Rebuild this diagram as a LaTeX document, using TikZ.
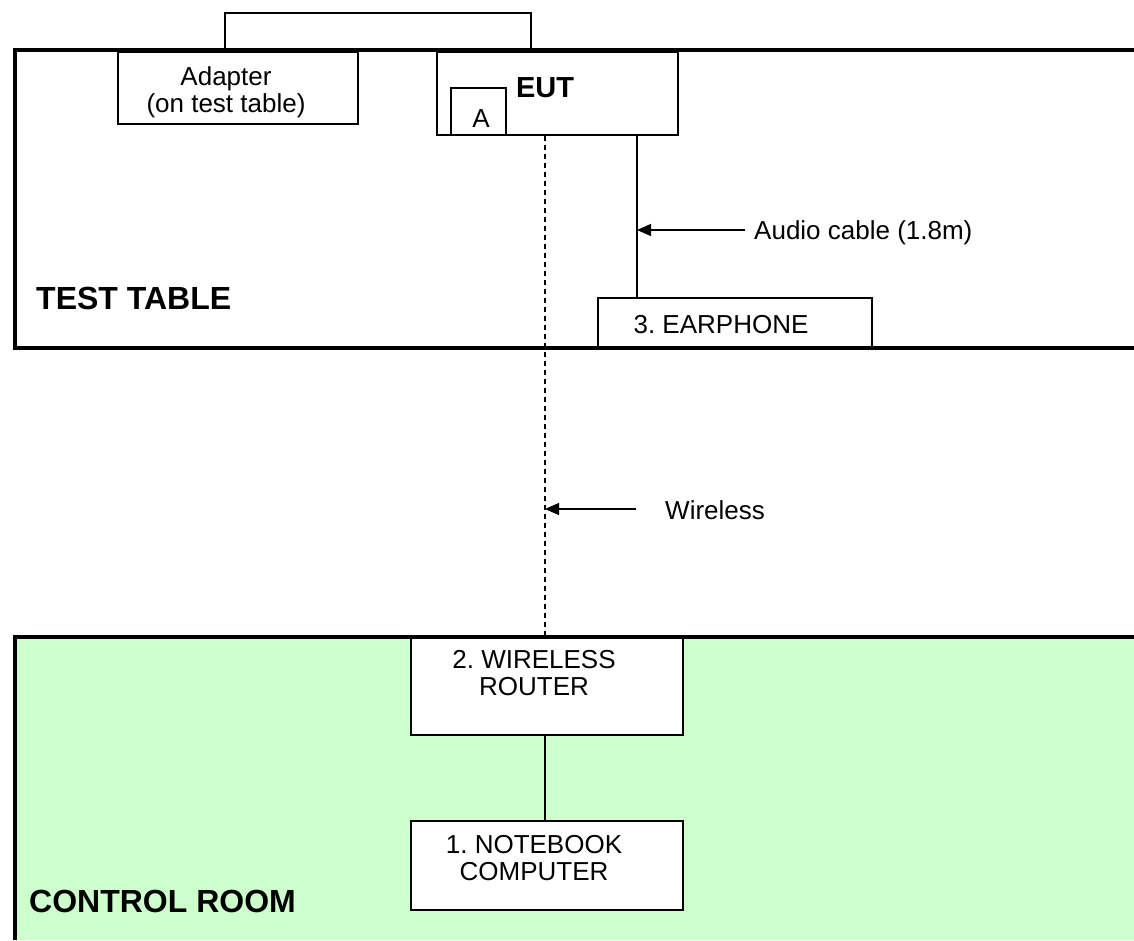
\documentclass[tikz,border=0pt]{standalone}
\usepackage{fontspec}
\setmainfont{Liberation Sans}
\usetikzlibrary{arrows.meta}
\definecolor{roomgreen}{HTML}{CCFFCC}
\frenchspacing
\begin{document}
\begin{tikzpicture}[x=1pt,y=-1pt,
  box/.style={draw, line width=1.2pt, fill=white, inner sep=0pt},
  txt/.style={font=\fontsize{26}{27}\selectfont, inner sep=0pt, anchor=base},
  txtw/.style={font=\fontsize{26}{27}\selectfont, inner sep=0pt, anchor=base west},
  lbl/.style={font=\bfseries\fontsize{32}{36}\selectfont, inner sep=0pt, anchor=base west},
  wall/.style={line width=4pt},
  wire/.style={line width=1.3pt},
  radio/.style={line width=1.2pt, dash pattern=on 5pt off 4pt},
  pointer/.style={line width=1.3pt, -{Triangle[length=14pt,width=12pt]}}]
\useasboundingbox (0,0) rectangle (1134,940);
% control room background
\fill[roomgreen] (15,637) rectangle (1134,940);
% boxes
\node[box, minimum width=240pt, minimum height=72pt] (adapter) at (238,88) {};
\node[box, minimum width=241pt, minimum height=83pt] (eut) at (557.5,93.5) {};
\node[box, minimum width=55pt, minimum height=47pt] (abox) at (478.5,111.5) {};
\node[box, minimum width=274pt, minimum height=50pt] (earphone) at (735,323) {};
\node[box, minimum width=272pt, minimum height=98pt] (router) at (547,686) {};
\node[box, minimum width=272pt, minimum height=89pt] (notebook) at (547,865.5) {};
% helper coordinates
\coordinate (wx) at (545,0);
\coordinate (ax) at (637,0);
\coordinate (pl) at (225,13);
\coordinate (pr) at (531,13);
\coordinate (wstart) at (636,509);
\coordinate (astart) at (745,230);
% connectors
\draw[wire] (adapter.north -| pl) -- (pl) -- (pr) -- (eut.north -| pr);
\draw[radio] (eut.south -| wx) -- (router.north -| wx);
\draw[wire] (eut.south -| ax) -- (earphone.north -| ax);
\draw[wire] (router.south -| wx) -- (notebook.north -| wx);
\draw[pointer] (astart) -- (astart -| ax);
\draw[pointer] (wstart) -- (wstart -| wx);
% walls
\draw[wall] (1134,50) -- (15,50) -- (15,348) -- (1134,348);
\draw[wall] (1134,637) -- (15,637) -- (15,940);
% texts
\node[txt] (t1) at (226,85) {Adapter};
\node[txt] (t2) at (226,112) {(on test table)};
\node[txt, font=\bfseries\fontsize{29}{30}\selectfont] (t3) at (545,97) {EUT};
\node[txt] (t4) at (481,127) {A};
\node[txt] (t5) at (721,333) {3. EARPHONE};
\node[txtw] (t6) at (754,239) {Audio cable (1.8m)};
\node[txtw] (t7) at (665,519) {Wireless};
\node[lbl] (t8) at (36,309) {TEST TABLE};
\node[lbl] (t9) at (29,912) {CONTROL ROOM};
\node[txt] (t10) at (534,668) {2. WIRELESS};
\node[txt] (t11) at (534,695) {ROUTER};
\node[txt] (t12) at (534,853) {1. NOTEBOOK};
\node[txt] (t13) at (534,880) {COMPUTER};
\end{tikzpicture}
\end{document}
